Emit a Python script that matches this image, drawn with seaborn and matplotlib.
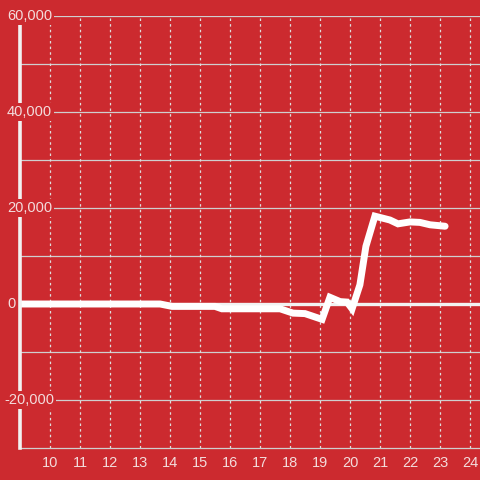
import matplotlib
matplotlib.use("Agg")
import matplotlib.pyplot as plt
import matplotlib.transforms as mtransforms
import seaborn as sns
import pandas as pd

# values
hours = [9.0, 13.67, 14.07, 15.5, 15.73, 17.67, 18.1, 18.5, 19.07, 19.33,
         19.67, 19.9, 20.07, 20.33, 20.53, 20.83, 21.33, 21.6, 22.0, 22.33,
         22.67, 23.17]
balance = [0, 0, -500, -500, -1000, -1000, -1900, -2000, -3200, 1400,
           500, 400, -1000, 4000, 12000, 18300, 17500, 16700, 17100, 17000,
           16500, 16200]
y_ticks = [-20000, 0, 20000, 40000, 60000]
x_ticks = list(range(10, 25))

BG = "#cc2a2f"
TXT = "#f3dcdc"
GRID = "#cfcfcf"

sns.set_style("dark")
plt.rcParams["font.family"] = ["Liberation Sans", "DejaVu Sans"]

df = pd.DataFrame({"hour": hours, "balance": balance})

fig = plt.figure(figsize=(4.8, 4.8), dpi=100, facecolor=BG)
ax = fig.add_axes([20 / 480, 32 / 480, 460 / 480, 432 / 480])
ax.set_facecolor(BG)

ax.set_xlim(9, 9 + 460 / 30)
ax.set_ylim(-30000, 60000)

# horizontal grid every 10k, dotted vertical grid on the hours
for v in range(-20000, 60001, 10000):
    if v != 0:
        ax.axhline(v, color=GRID, lw=0.9, zorder=1)
for h in x_ticks:
    ax.axvline(h, color="#dedede", lw=0.9, ls=(0, (2, 2.5)), zorder=1)
ax.axhline(0, color="#f2f2f2", lw=2.4, zorder=2)

sns.lineplot(data=df, x="hour", y="balance", ax=ax, color="white",
             lw=5, zorder=3, solid_joinstyle="miter")

ax.set_xlabel("")
ax.set_ylabel("")
ax.set_xticks(x_ticks)
ax.set_xticklabels([str(h) for h in x_ticks])
ax.set_yticks([])
ax.tick_params(axis="x", length=0, pad=6, colors=TXT, labelsize=10.5)
ax.grid(False)

for side in ["top", "right"]:
    ax.spines[side].set_visible(False)
ax.spines["left"].set_color("#f2f2f2")
ax.spines["left"].set_linewidth(2.6)
ax.spines["left"].set_zorder(4)
ax.spines["bottom"].set_color(GRID)
ax.spines["bottom"].set_linewidth(0.9)

# y labels sit over the axis line with a red box behind them
trans = mtransforms.blended_transform_factory(fig.transFigure, ax.transData)
for v in y_ticks:
    ax.text(4 / 480 if v < 0 else 7 / 480, v, f"{v:,}", transform=trans,
            ha="left", va="center", color=TXT, fontsize=10.5, zorder=5,
            bbox=dict(facecolor=BG, edgecolor="none", pad=1.5))

fig.savefig("out.png", dpi=100, facecolor=BG)
